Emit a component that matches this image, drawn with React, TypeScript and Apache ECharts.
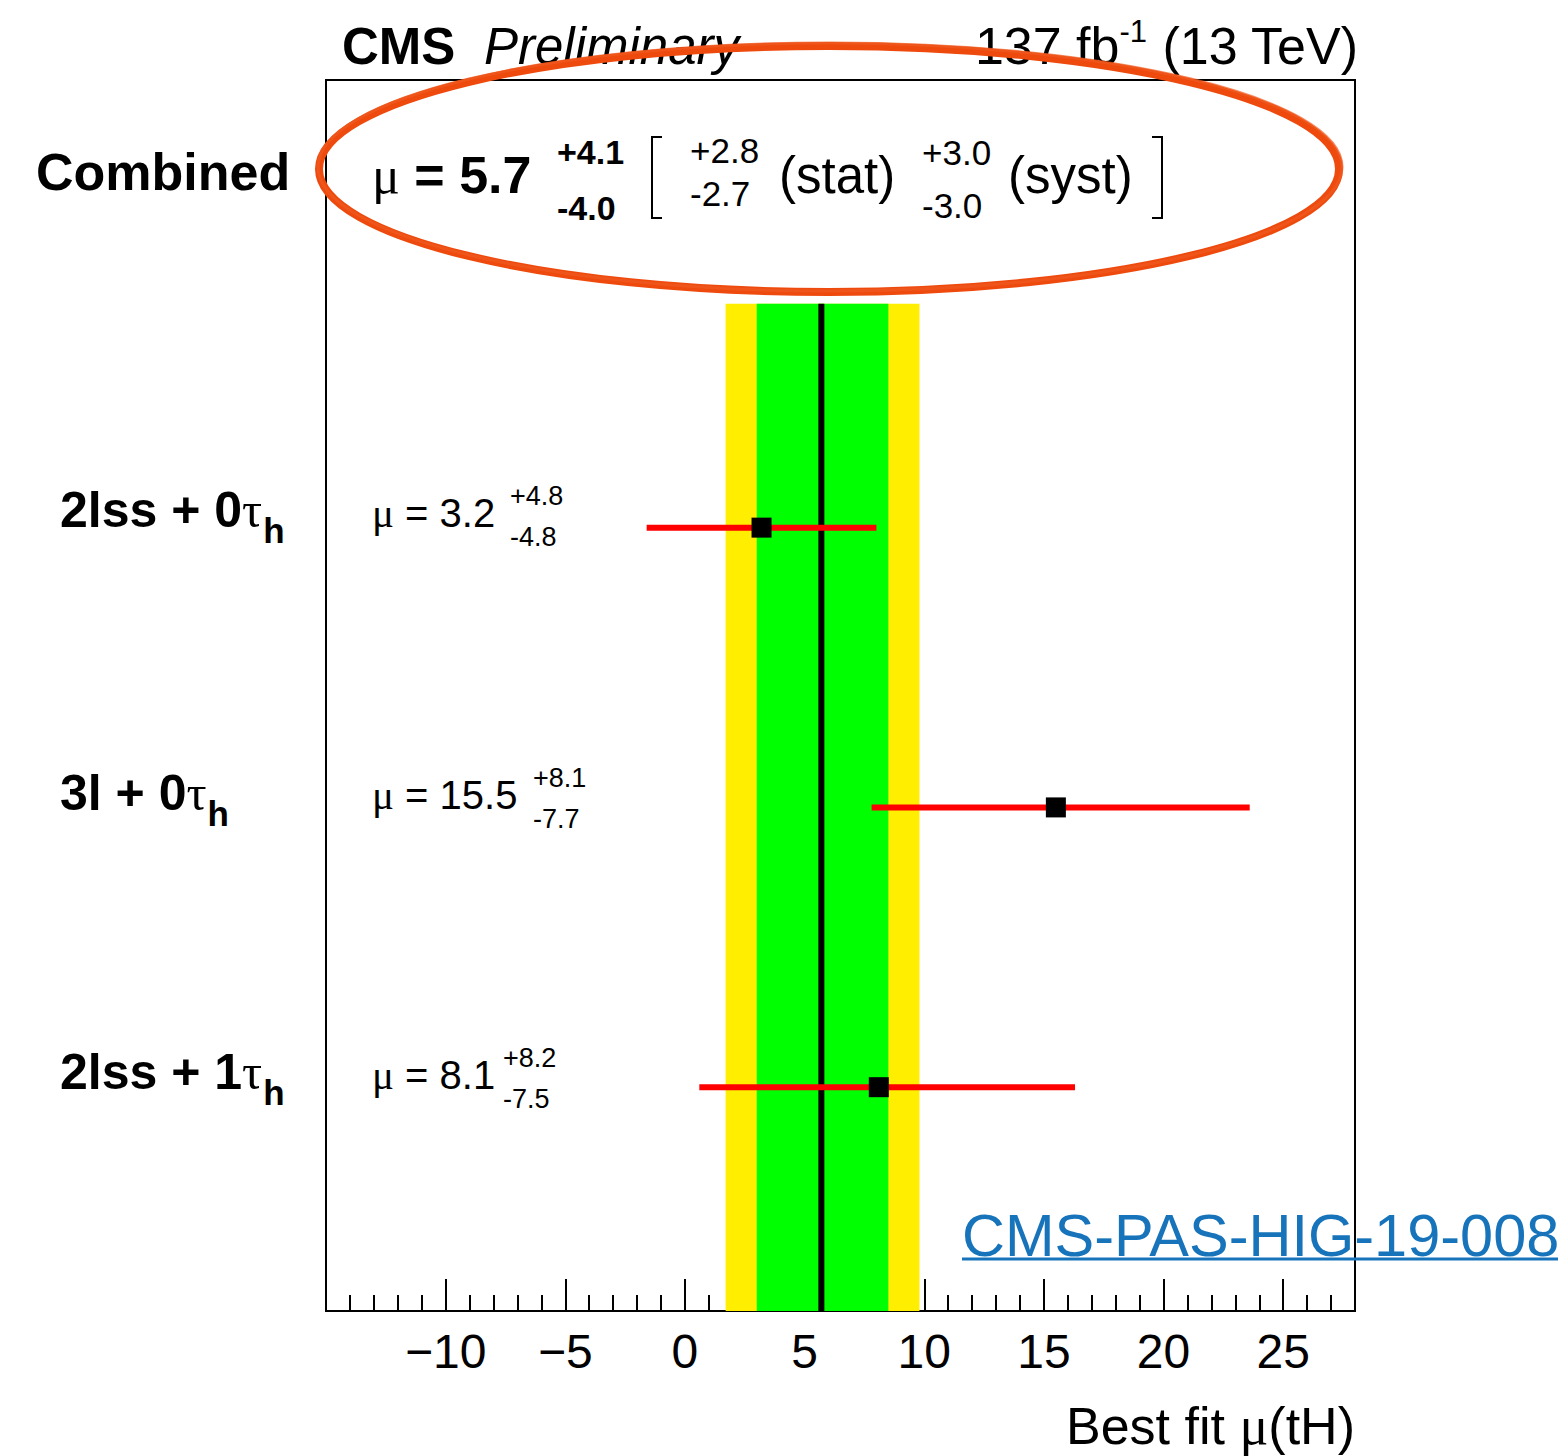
import React, { useEffect, useRef } from "react";
import * as echarts from "echarts";

// ---- data ----
const categories = ["2lss + 0", "3l + 0", "2lss + 1"]; // followed by τ_h
const rowY = [3, 2, 1];
const muValues = [3.2, 15.5, 8.1];
const errUp = [4.8, 8.1, 8.2];
const errDown = [4.8, 7.7, 7.5];

const combinedMu = 5.7;
const combinedUp = 4.1;
const combinedDown = 4.0;
const statUp = 2.8;
const statDown = 2.7;
const systUp = 3.0;
const systDown = 3.0;

const xMin = -15;
const xMax = 28;
const yMin = 0.2;
const yMax = 4.6;
const bandTop = 3.8;
const majorTickValues = [-10, -5, 0, 5, 10, 15, 20, 25];

const SANS = "Liberation Sans";
const SERIF = "Liberation Serif";
const f1 = (v: number) => v.toFixed(1);

function measure(text: string, font: string): number {
  const c = document.createElement("canvas");
  const ctx = c.getContext("2d");
  if (!ctx) return text.length * 25;
  ctx.font = font;
  return ctx.measureText(text).width;
}

export default function App() {
  const ref = useRef<HTMLDivElement>(null);

  useEffect(() => {
    if (!ref.current) return;
    const chart = echarts.init(ref.current, null, { renderer: "svg" });

    const totalBand = [[combinedMu - combinedDown, combinedMu + combinedUp, yMin, bandTop]];
    const statBand = [[combinedMu - statDown, combinedMu + statUp, yMin, bandTop]];
    const centerLine = [[combinedMu, yMin, bandTop]];
    const points = muValues.map((m, i) => [m, m - errDown[i], m + errUp[i], rowY[i]]);

    const bandRender = (color: string) => (params: any, api: any) => {
      const p1 = api.coord([api.value(0), api.value(3)]);
      const p2 = api.coord([api.value(1), api.value(2)]);
      return {
        type: "rect",
        shape: { x: p1[0], y: p1[1], width: p2[0] - p1[0], height: p2[1] - p1[1] },
        style: { fill: color },
      };
    };

    // layout (pixels)
    const rowLabelY = [510, 793, 1072];
    const muTextY = [513, 795, 1075];
    const supX = [510, 533, 503];

    const graphics: any[] = [];

    // header
    graphics.push({
      type: "text", x: 342, y: 46, z: 10,
      style: { text: "CMS", fontFamily: SANS, fontWeight: "bold", fontSize: 51, fill: "#000", align: "left", verticalAlign: "middle" },
    });
    graphics.push({
      type: "text", x: 484, y: 46, z: 10,
      style: { text: "Preliminary", fontFamily: SANS, fontStyle: "italic", fontSize: 51, fill: "#000", align: "left", verticalAlign: "middle" },
    });
    graphics.push({
      type: "text", x: 1358, y: 46, z: 10,
      style: {
        text: "{n|137 fb}{s|-1}{n| (13 TeV)}",
        align: "right", verticalAlign: "middle",
        rich: {
          n: { fontFamily: SANS, fontSize: 52, lineHeight: 60, fill: "#000" },
          s: { fontFamily: SANS, fontSize: 31, lineHeight: 30, verticalAlign: "top", fill: "#000" },
        },
      },
    });

    // combined row
    graphics.push({
      type: "text", x: 36, y: 172, z: 10,
      style: { text: "Combined", fontFamily: SANS, fontWeight: "bold", fontSize: 52, fill: "#000", align: "left", verticalAlign: "middle" },
    });
    graphics.push({
      type: "text", x: 372, y: 175, z: 10,
      style: {
        text: `{m|μ}{b| = ${f1(combinedMu)}}`,
        align: "left", verticalAlign: "middle",
        rich: {
          m: { fontFamily: SERIF, fontSize: 52, fill: "#000" },
          b: { fontFamily: SANS, fontWeight: "bold", fontSize: 52, fill: "#000" },
        },
      },
    });
    const small = (text: string, x: number, y: number, size: number, bold = false) => ({
      type: "text", x, y, z: 10,
      style: { text, fontFamily: SANS, fontWeight: bold ? "bold" : "normal", fontSize: size, fill: "#000", align: "left", verticalAlign: "middle" },
    });
    graphics.push(small(`+${f1(combinedUp)}`, 557, 152, 34, true));
    graphics.push(small(`-${f1(combinedDown)}`, 557, 208, 34, true));
    graphics.push(small(`+${f1(statUp)}`, 690, 150, 35));
    graphics.push(small(`-${f1(statDown)}`, 690, 193, 35));
    graphics.push(small("(stat)", 779, 175, 51));
    graphics.push(small(`+${f1(systUp)}`, 922, 152, 35));
    graphics.push(small(`-${f1(systDown)}`, 922, 205, 35));
    graphics.push(small("(syst)", 1008, 175, 51));
    graphics.push({
      type: "polyline", z: 10,
      shape: { points: [[662, 137], [652, 137], [652, 218], [662, 218]] },
      style: { stroke: "#000", lineWidth: 2, fill: "none" },
    });
    graphics.push({
      type: "polyline", z: 10,
      shape: { points: [[1152, 137], [1162, 137], [1162, 218], [1152, 218]] },
      style: { stroke: "#000", lineWidth: 2, fill: "none" },
    });

    // per-channel labels
    categories.forEach((c, i) => {
      const wMain = measure(c, `bold 50px "${SANS}"`);
      const wTau = measure("τ", `50px "${SERIF}"`);
      graphics.push({
        type: "text", x: 60, y: rowLabelY[i], z: 10,
        style: {
          text: `{b|${c}}{t|τ}`,
          align: "left", verticalAlign: "middle",
          rich: {
            b: { fontFamily: SANS, fontWeight: "bold", fontSize: 50, fill: "#000" },
            t: { fontFamily: SERIF, fontSize: 50, fill: "#000" },
          },
        },
      });
      graphics.push({
        type: "text", x: 60 + wMain + wTau + 1, y: rowLabelY[i] + 20, z: 10,
        style: { text: "h", fontFamily: SANS, fontWeight: "bold", fontSize: 35, fill: "#000", align: "left", verticalAlign: "middle" },
      });
      graphics.push({
        type: "text", x: 372, y: muTextY[i], z: 10,
        style: {
          text: `{m|μ}{n| = ${f1(muValues[i])}}`,
          align: "left", verticalAlign: "middle",
          rich: {
            m: { fontFamily: SERIF, fontSize: 41, fill: "#000" },
            n: { fontFamily: SANS, fontSize: 40, fill: "#000" },
          },
        },
      });
      graphics.push(small(`+${f1(errUp[i])}`, supX[i], muTextY[i] - 17, 27));
      graphics.push(small(`-${f1(errDown[i])}`, supX[i], muTextY[i] + 24, 27));
    });

    // axis title
    graphics.push({
      type: "text", x: 1355, y: 1426, z: 10,
      style: {
        text: "{n|Best fit }{m|μ}{n|(tH)}",
        align: "right", verticalAlign: "middle",
        rich: {
          n: { fontFamily: SANS, fontSize: 52, lineHeight: 50, fill: "#000" },
          m: { fontFamily: SERIF, fontSize: 54, lineHeight: 50, fill: "#000" },
        },
      },
    });

    // link
    graphics.push({
      type: "text", x: 962, y: 1235, z: 10,
      style: { text: "CMS-PAS-HIG-19-008", fontFamily: SANS, fontSize: 59.5, fill: "#1774bb", align: "left", verticalAlign: "middle" },
    });
    graphics.push({
      type: "line", z: 10,
      shape: { x1: 962, y1: 1259, x2: 1558, y2: 1259 },
      style: { stroke: "#1774bb", lineWidth: 3 },
    });

    // hand-drawn ellipse
    graphics.push({
      type: "ellipse", z: 100,
      shape: { cx: 829, cy: 169, rx: 510, ry: 123 },
      style: { stroke: "#ee4a0e", lineWidth: 8, fill: "none" },
    });
    graphics.push({
      type: "ellipse", z: 101,
      shape: { cx: 830, cy: 167, rx: 512, ry: 124 },
      style: { stroke: "#f05a20", lineWidth: 3, fill: "none", opacity: 0.7 },
    });

    const option: any = {
      animation: false,
      backgroundColor: "#fff",
      grid: {
        left: 326, top: 80, width: 1029, height: 1231,
        show: true, borderColor: "#000", borderWidth: 2, backgroundColor: "transparent",
      },
      xAxis: [
        {
          type: "value", position: "bottom", min: xMin, max: xMax, interval: 1,
          axisLine: { show: true, onZero: false, lineStyle: { color: "#000", width: 2 } },
          axisTick: { show: true, inside: true, length: 16, lineStyle: { color: "#000", width: 2 } },
          axisLabel: { show: false },
          splitLine: { show: false },
        },
        {
          type: "value", position: "bottom", min: xMin, max: xMax, interval: 5,
          axisLine: { show: false, onZero: false },
          axisTick: { show: true, inside: true, length: 32, lineStyle: { color: "#000", width: 2 } },
          axisLabel: {
            show: true, margin: 16, color: "#000", fontFamily: SANS, fontSize: 48,
            formatter: (v: number) => (majorTickValues.includes(v) ? (v < 0 ? "\u2212" + Math.abs(v) : String(v)) : ""),
          },
          splitLine: { show: false },
        },
      ],
      yAxis: {
        type: "value", min: yMin, max: yMax, show: false, splitLine: { show: false },
      },
      series: [
        {
          type: "custom", xAxisIndex: 0, renderItem: bandRender("#ffee00"), data: totalBand,
          encode: { x: [0, 1], y: [2, 3] }, z: 1, silent: true,
        },
        {
          type: "custom", xAxisIndex: 0, renderItem: bandRender("#00ff00"), data: statBand,
          encode: { x: [0, 1], y: [2, 3] }, z: 2, silent: true,
        },
        {
          type: "custom", xAxisIndex: 0, z: 3, silent: true,
          encode: { x: 0, y: [1, 2] },
          data: centerLine,
          renderItem: (params: any, api: any) => {
            const a = api.coord([api.value(0), api.value(1)]);
            const b = api.coord([api.value(0), api.value(2)]);
            return { type: "line", shape: { x1: a[0], y1: a[1], x2: b[0], y2: b[1] }, style: { stroke: "#000", lineWidth: 6 } };
          },
        },
        {
          type: "custom", xAxisIndex: 0, z: 4, silent: true,
          encode: { x: [0, 1, 2], y: 3 },
          data: points,
          renderItem: (params: any, api: any) => {
            const lo = api.coord([api.value(1), api.value(3)]);
            const hi = api.coord([api.value(2), api.value(3)]);
            const c = api.coord([api.value(0), api.value(3)]);
            return {
              type: "group",
              children: [
                { type: "line", shape: { x1: lo[0], y1: lo[1], x2: hi[0], y2: hi[1] }, style: { stroke: "#ff0000", lineWidth: 6 } },
                { type: "rect", shape: { x: c[0] - 10, y: c[1] - 10, width: 20, height: 20 }, style: { fill: "#000" } },
              ],
            };
          },
        },
      ],
      graphic: graphics,
    };

    chart.setOption(option);
    return () => chart.dispose();
  }, []);

  return (
    <div
      ref={ref}
      style={{ position: "absolute", left: 0, top: 0, width: 1568, height: 1456, background: "#fff" }}
    />
  );
}
